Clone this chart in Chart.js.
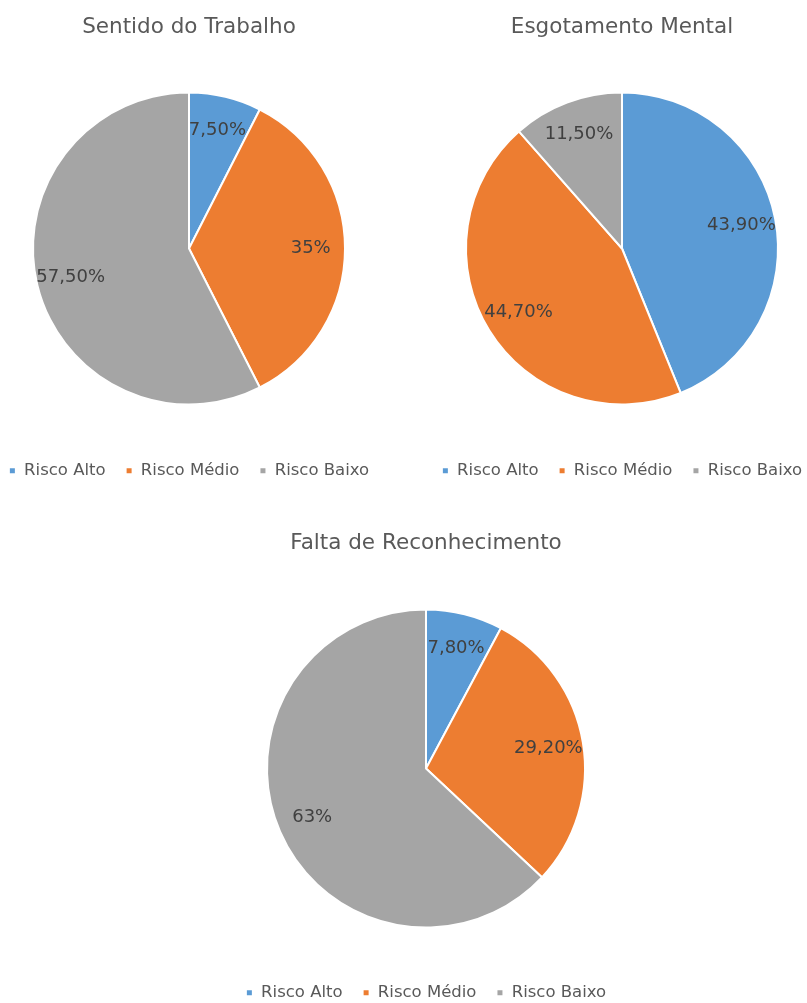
<!DOCTYPE html>
<html>
<head>
<meta charset="utf-8">
<script src="https://cdn.jsdelivr.net/npm/chart.js@4.4.0/dist/chart.umd.min.js"></script>
<style>
html, body { margin: 0; padding: 0; background: #fff; overflow: hidden; width: 807px; height: 1003px; }
canvas { position: absolute; }
</style>
</head>
<body>
<canvas id="c1" width="420" height="489" style="left:-21px;top:0"></canvas>
<canvas id="c2" width="420" height="489" style="left:412px;top:0"></canvas>
<canvas id="c3" width="420" height="495" style="left:216px;top:516px"></canvas>
<script>
var categorias = ['Risco Alto', 'Risco Médio', 'Risco Baixo']
var cores = ['#5b9bd5', '#ed7d31', '#a5a5a5']
var titulos = ['Sentido do Trabalho', 'Esgotamento Mental', 'Falta de Reconhecimento']
var sentido = [7.5, 35, 57.5]
var esgotamento = [43.9, 44.7, 11.5]
var reconhecimento = [7.8, 29.2, 63]

var fonte = '"DejaVu Sans", Verdana, sans-serif'

function formato(v) {
	var s = (v % 1 === 0) ? String(v) : v.toFixed(2)
	return s.replace('.', ',') + '%'
}

// rotulos dentro das fatias
var rotulos = {
	id: 'rotulos',
	afterDatasetsDraw: function (chart) {
		var ctx = chart.ctx
		var meta = chart.getDatasetMeta(0)
		var valores = chart.data.datasets[0].data
		ctx.save()
		ctx.font = '18px ' + fonte
		ctx.fillStyle = '#404040'
		ctx.textAlign = 'center'
		ctx.textBaseline = 'middle'
		meta.data.forEach(function (arc, i) {
			var p = arc.getProps(['x', 'y', 'startAngle', 'endAngle', 'outerRadius'], true)
			var a = (p.startAngle + p.endAngle) / 2
			var r = p.outerRadius * 0.78
			ctx.fillText(formato(valores[i]), p.x + Math.cos(a) * r, p.y + Math.sin(a) * r)
		})
		ctx.restore()
	}
}

function pizza(id, titulo, valores, raio, padTitulo) {
	return new Chart(document.getElementById(id), {
		type: 'pie',
		data: {
			labels: categorias,
			datasets: [{
				data: valores,
				backgroundColor: cores,
				borderColor: '#ffffff',
				borderWidth: 2,
				radius: raio
			}]
		},
		options: {
			responsive: false,
			animation: false,
			devicePixelRatio: 1,
			layout: { padding: 0 },
			plugins: {
				tooltip: { enabled: false },
				title: {
					display: true,
					text: titulo,
					color: '#595959',
					font: { family: fonte, size: 21.5, weight: 'normal' },
					padding: { top: 14.1, bottom: padTitulo }
				},
				legend: {
					position: 'bottom',
					labels: {
						color: '#595959',
						font: { family: fonte, size: 16.5 },
						boxWidth: 7,
						boxHeight: 7,
						padding: 20
					}
				}
			}
		},
		plugins: [rotulos]
	})
}

pizza('c1', titulos[0], sentido, 156, 14.6)
pizza('c2', titulos[1], esgotamento, 156, 14.6)
pizza('c3', titulos[2], reconhecimento, 159, 16.6)
</script>
</body>
</html>
